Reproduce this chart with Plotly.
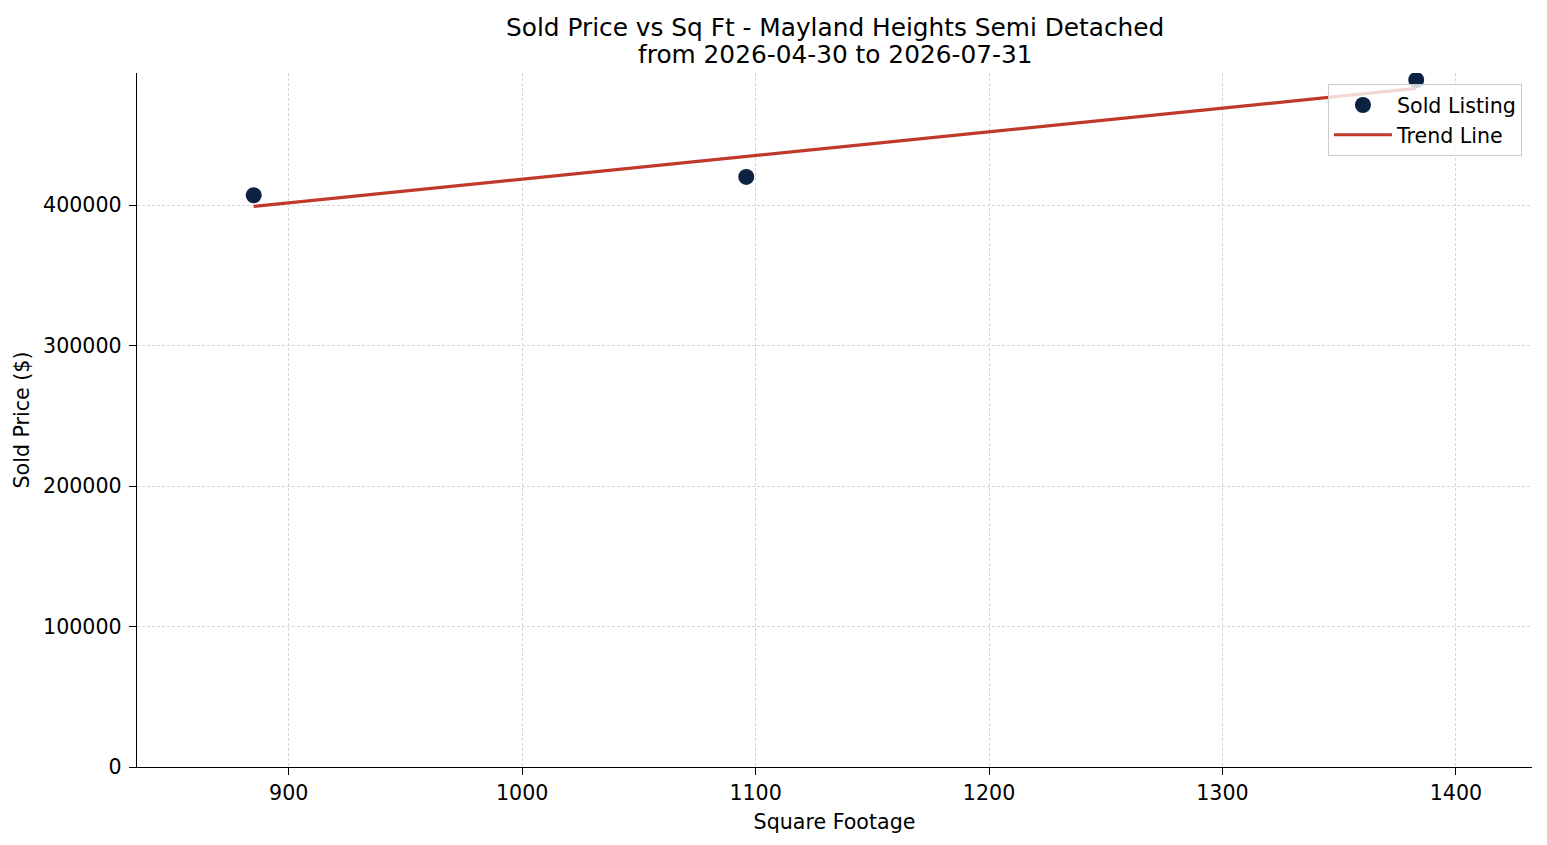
import plotly.graph_objects as go

# sold listings
sqft = [885, 1096, 1383]
sold_price = [407000, 420000, 489000]

# trend line end points
trend_x = [885, 1383]
trend_y = [399000, 483000]

x_ticks = [900, 1000, 1100, 1200, 1300, 1400]
y_ticks = [0, 100000, 200000, 300000, 400000]

title_lines = ["Sold Price vs Sq Ft - Mayland Heights Semi Detached",
               "from 2026-04-30 to 2026-07-31"]

font = "DejaVu Sans"

fig = go.Figure()
fig.add_trace(go.Scatter(x=sqft, y=sold_price, mode="markers", name="Sold Listing",
                         marker=dict(color="#0b2341", size=16)))
fig.add_trace(go.Scatter(x=trend_x, y=trend_y, mode="lines", name="Trend Line",
                         line=dict(color="#c0392b", width=3.2)))

# two title lines as separate annotations so the line spacing can be set
for line, shift in zip(title_lines, [46, 19]):
    fig.add_annotation(text=line, x=0.5, y=1, xref="paper", yref="paper",
                       xanchor="center", yanchor="middle", yshift=shift,
                       showarrow=False, font=dict(family=font, size=24.8, color="black"))

fig.update_layout(
    width=1531, height=829,
    margin=dict(l=129, r=7, t=65, b=70),
    paper_bgcolor="white", plot_bgcolor="white",
    font=dict(family=font, size=20.6, color="black"),
    legend=dict(x=0.9928, y=0.984, xanchor="right", yanchor="top", itemwidth=58,
                bgcolor="rgba(255,255,255,0.8)", bordercolor="#cccccc", borderwidth=1,
                font=dict(size=20.6)),
    showlegend=True,
)
fig.update_xaxes(range=[835, 1432.6], tickvals=x_ticks, showline=True, linecolor="black", linewidth=1.4,
                 ticks="outside", ticklen=7, tickwidth=1.3, tickcolor="black", mirror=False,
                 showgrid=True, gridcolor="#d6d6d6", griddash="3px,2px", gridwidth=0.8, zeroline=False,
                 title=dict(text="Square Footage", standoff=10, font=dict(size=20.6)))
fig.update_yaxes(range=[0, 494000], tickvals=y_ticks, showline=True, linecolor="black", linewidth=1.4,
                 ticks="outside", ticklen=7, tickwidth=1.3, tickcolor="black", mirror=False, tickformat="d",
                 ticklabelstandoff=3,
                 showgrid=True, gridcolor="#d6d6d6", griddash="3px,2px", gridwidth=0.8, zeroline=False,
                 title=dict(text="Sold Price ($)", standoff=7, font=dict(size=20.6)))

fig.write_html("out.html")
